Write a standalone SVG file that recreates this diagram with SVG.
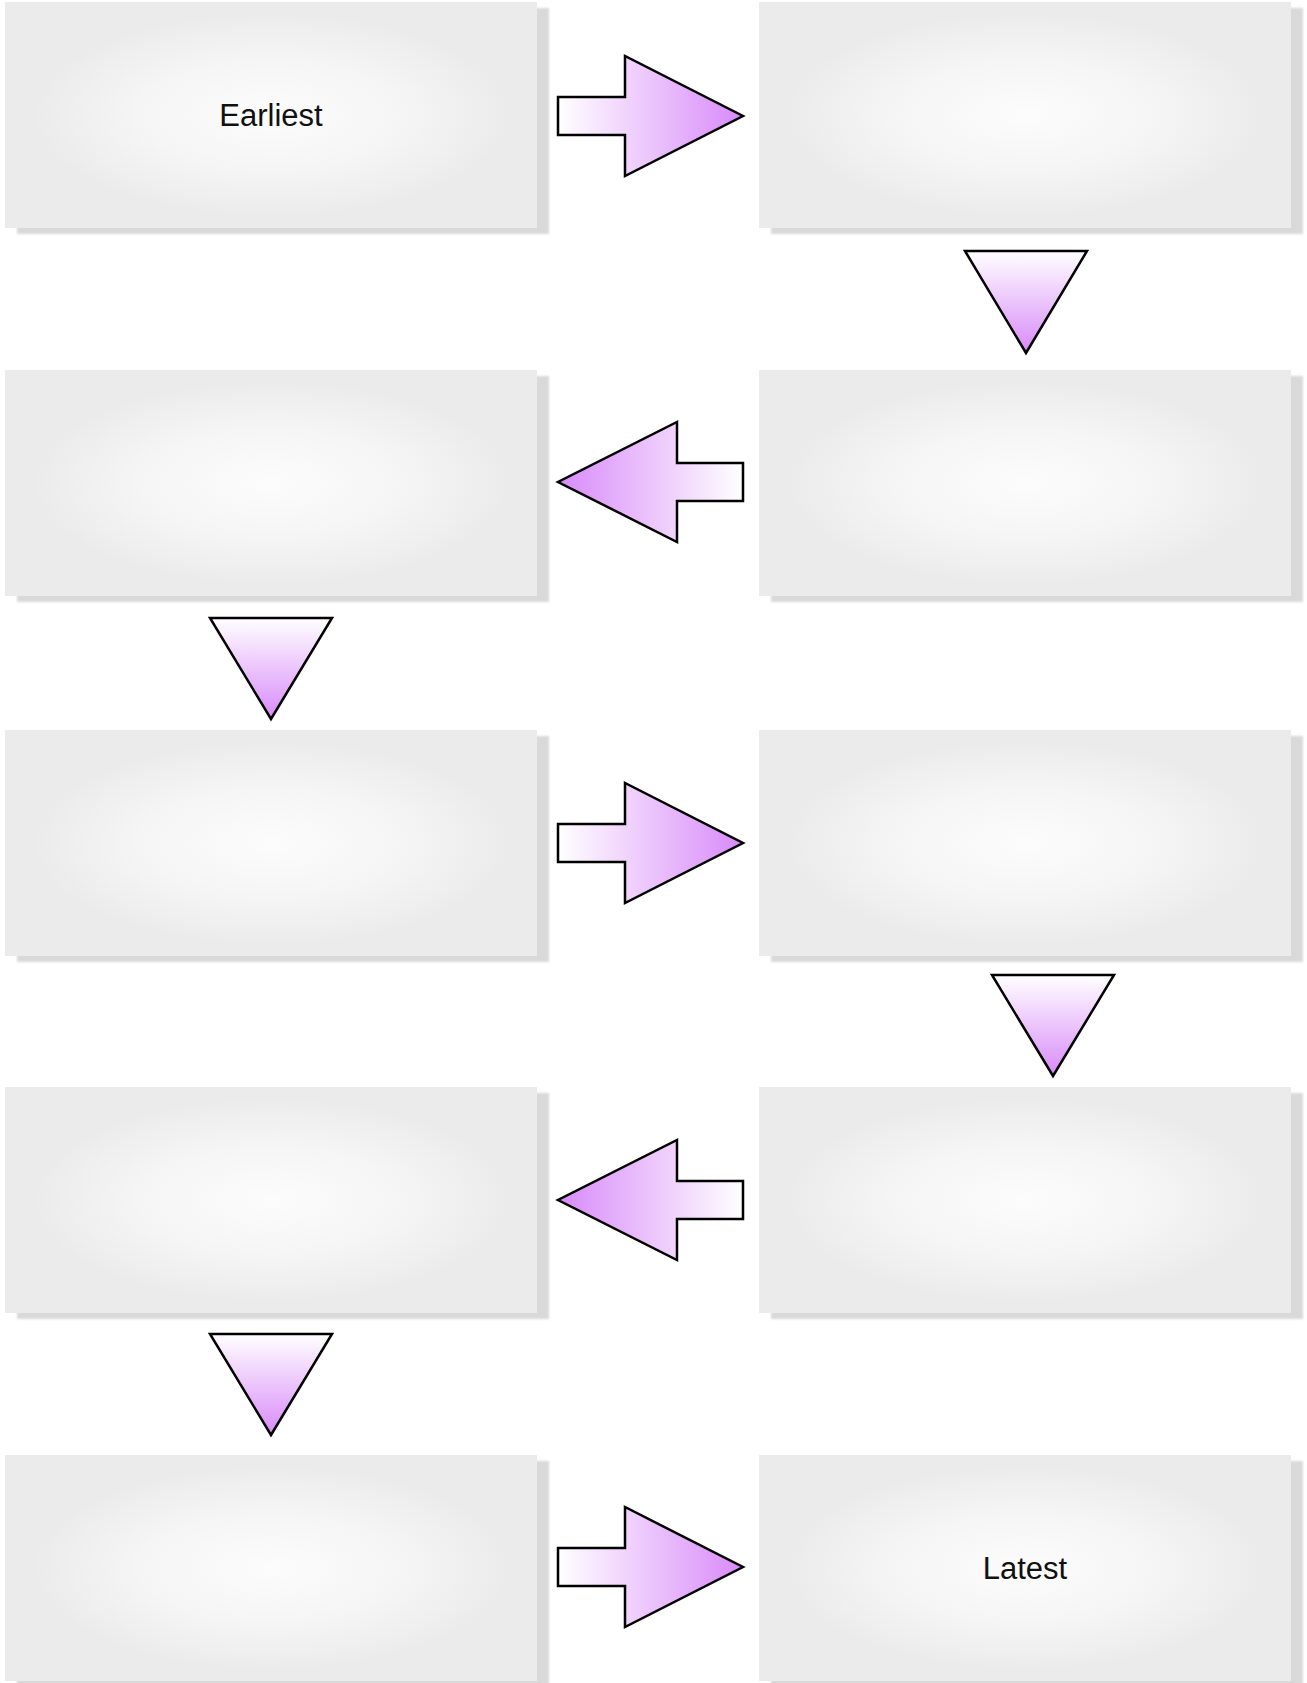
<svg xmlns="http://www.w3.org/2000/svg" width="1307" height="1683" viewBox="0 0 1307 1683">
<defs>
<radialGradient id="boxFill" cx="0.5" cy="0.5" r="0.45" gradientUnits="objectBoundingBox">
<stop offset="0" stop-color="#fcfcfc"/>
<stop offset="0.55" stop-color="#f5f5f5"/>
<stop offset="1" stop-color="#ebebeb"/>
</radialGradient>
<linearGradient id="gRight" x1="0" y1="0" x2="1" y2="0">
<stop offset="0" stop-color="#ffffff"/>
<stop offset="1" stop-color="#d88af9"/>
</linearGradient>
<linearGradient id="gLeft" x1="1" y1="0" x2="0" y2="0">
<stop offset="0" stop-color="#ffffff"/>
<stop offset="1" stop-color="#d88af9"/>
</linearGradient>
<linearGradient id="gDown" x1="0" y1="0" x2="0" y2="1">
<stop offset="0" stop-color="#ffffff"/>
<stop offset="1" stop-color="#d88af9"/>
</linearGradient>
<filter id="soft" x="-5%" y="-5%" width="110%" height="110%">
<feGaussianBlur stdDeviation="1.2"/>
</filter>
</defs>
<style>
.shadow{fill:#d9d9d9;filter:url(#soft);}
.box{fill:url(#boxFill);}
.lbl{font-family:"Liberation Sans","DejaVu Sans",sans-serif;font-size:31px;fill:#111111;text-anchor:middle;dominant-baseline:central;}
.ar{stroke:#000000;stroke-width:2.5;stroke-linejoin:miter;}
.r{fill:url(#gRight);}
.l{fill:url(#gLeft);}
.d{fill:url(#gDown);}
</style>
<rect width="1307" height="1683" fill="#ffffff"/>

<g id="node1"><rect class="shadow" x="17" y="8" width="532" height="226"/><rect class="box" x="5" y="2" width="532" height="226"/><text class="lbl" x="271" y="115">Earliest</text></g>
<g id="node2"><rect class="shadow" x="771" y="8" width="532" height="226"/><rect class="box" x="759" y="2" width="532" height="226"/></g>
<g id="node3"><rect class="shadow" x="771" y="376" width="532" height="226"/><rect class="box" x="759" y="370" width="532" height="226"/></g>
<g id="node4"><rect class="shadow" x="17" y="376" width="532" height="226"/><rect class="box" x="5" y="370" width="532" height="226"/></g>
<g id="node5"><rect class="shadow" x="17" y="736" width="532" height="226"/><rect class="box" x="5" y="730" width="532" height="226"/></g>
<g id="node6"><rect class="shadow" x="771" y="736" width="532" height="226"/><rect class="box" x="759" y="730" width="532" height="226"/></g>
<g id="node7"><rect class="shadow" x="771" y="1093" width="532" height="226"/><rect class="box" x="759" y="1087" width="532" height="226"/></g>
<g id="node8"><rect class="shadow" x="17" y="1093" width="532" height="226"/><rect class="box" x="5" y="1087" width="532" height="226"/></g>
<g id="node9"><rect class="shadow" x="17" y="1461" width="532" height="226"/><rect class="box" x="5" y="1455" width="532" height="226"/></g>
<g id="node10"><rect class="shadow" x="771" y="1461" width="532" height="226"/><rect class="box" x="759" y="1455" width="532" height="226"/><text class="lbl" x="1025" y="1568">Latest</text></g>

<g id="connectors">
<path class="ar r" d="M558,97 H625 V56 L743,116 L625,176 V135 H558 Z"/>
<path class="ar d" d="M965,251 H1087 L1026,353 Z"/>
<path class="ar l" d="M743,463 H677 V422 L558,482 L677,542 V501 H743 Z"/>
<path class="ar d" d="M210,618 H332 L271,719 Z"/>
<path class="ar r" d="M558,824 H625 V783 L743,843 L625,903 V862 H558 Z"/>
<path class="ar d" d="M992,975 H1114 L1053,1076 Z"/>
<path class="ar l" d="M743,1181 H677 V1140 L558,1200 L677,1260 V1219 H743 Z"/>
<path class="ar d" d="M210,1334 H332 L271,1435 Z"/>
<path class="ar r" d="M558,1548 H625 V1507 L743,1567 L625,1627 V1586 H558 Z"/>
</g>
</svg>
